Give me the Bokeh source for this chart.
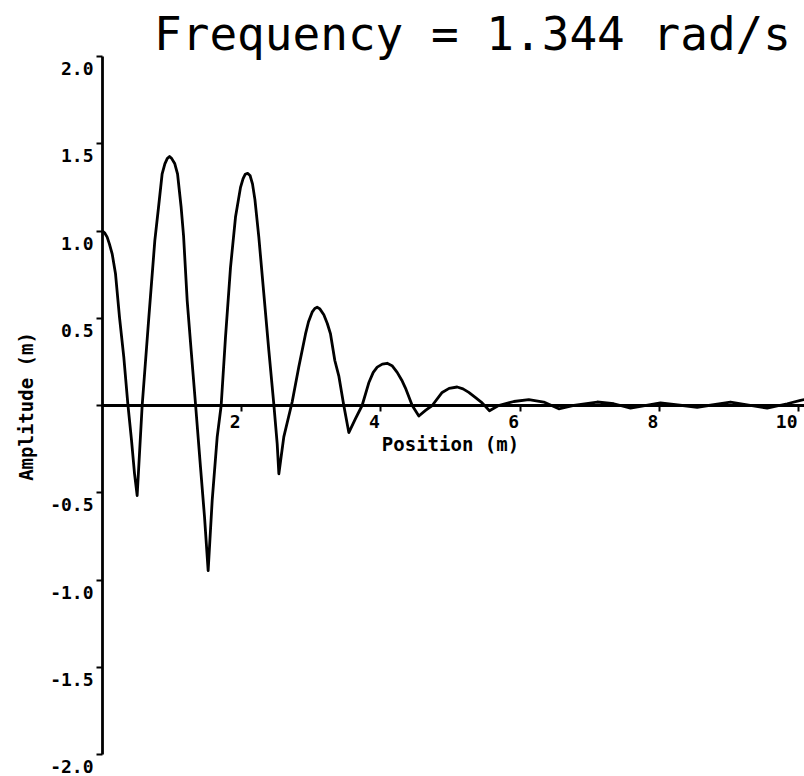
from bokeh.plotting import figure
from bokeh.models import Range1d, FixedTicker, ColumnDataSource, Label, LinearAxis
from bokeh.core.properties import value
from bokeh.embed import file_html
from bokeh.resources import INLINE
import math

# ---- data ----
position = [0.000, 0.030, 0.067, 0.100, 0.139, 0.187, 0.244, 0.306, 0.364, 0.417,
            0.460, 0.498, 0.570, 0.666, 0.752, 0.805, 0.857, 0.896, 0.930, 0.963,
            0.995, 1.039, 1.078, 1.130, 1.165, 1.217, 1.274, 1.336, 1.408, 1.466,
            1.518, 1.576, 1.648, 1.705, 1.767, 1.839, 1.911, 1.983, 2.020, 2.050,
            2.085, 2.120, 2.155, 2.190, 2.246, 2.318, 2.390, 2.461, 2.510, 2.534,
            2.605, 2.725, 2.820, 2.917, 2.960, 3.012, 3.050, 3.084, 3.120, 3.180,
            3.230, 3.276, 3.338, 3.395, 3.467, 3.539, 3.635, 3.730, 3.826, 3.890,
            3.947, 4.020, 4.090, 4.160, 4.234, 4.300, 4.353, 4.450, 4.545, 4.641,
            4.737, 4.880, 4.980, 5.096, 5.180, 5.263, 5.360, 5.455, 5.560, 5.690,
            5.910, 6.125, 6.340, 6.556, 6.772, 7.108, 7.346, 7.586, 8.017, 8.544,
            9.023, 9.550, 9.838, 10.029, 10.086]
amplitude = [1.000, 0.990, 0.965, 0.925, 0.869, 0.755, 0.506, 0.277, 0.010, -0.200,
             -0.390, -0.516, 0.000, 0.506, 0.946, 1.136, 1.328, 1.385, 1.415, 1.427,
             1.415, 1.385, 1.328, 1.136, 0.970, 0.600, 0.315, 0.010, -0.353, -0.640,
             -0.946, -0.544, -0.180, 0.000, 0.390, 0.790, 1.080, 1.250, 1.300, 1.325,
             1.330, 1.318, 1.270, 1.180, 0.965, 0.640, 0.315, 0.010, -0.220, -0.391,
             -0.180, 0.020, 0.220, 0.410, 0.480, 0.535, 0.556, 0.563, 0.555, 0.520,
             0.470, 0.410, 0.258, 0.170, 0.000, -0.155, -0.075, 0.000, 0.130, 0.190,
             0.220, 0.237, 0.242, 0.228, 0.190, 0.145, 0.100, 0.000, -0.060, -0.028,
             0.000, 0.075, 0.098, 0.106, 0.095, 0.075, 0.045, 0.015, -0.030, 0.000,
             0.023, 0.034, 0.020, -0.019, 0.000, 0.020, 0.010, -0.015, 0.015, -0.010,
             0.020, -0.015, 0.010, 0.029, 0.034]

y_ticks = [-2.0, -1.5, -1.0, -0.5, 0.0, 0.5, 1.0, 1.5, 2.0]
y_label_values = [-2.0, -1.5, -1.0, -0.5, 0.5, 1.0, 1.5, 2.0]
y_label_texts = ["-2.0", "-1.5", "-1.0", "-0.5", "0.5", "1.0", "1.5", "2.0"]
x_ticks = [2, 4, 6, 8, 10]
x_label_texts = ["2", "4", "6", "8", "10"]
title_text = "Frequency = 1.344 rad/s"
x_axis_title = "Position (m)"
y_axis_title = "Amplitude (m)"

# ---- layout ----
W, H = 804, 776
X0_PX, PX_PER_X = 102.0, 69.6
Y0_PX, PX_PER_Y = 405.0, 174.5
x_end = (W - X0_PX) / PX_PER_X

p = figure(width=W, height=H, output_backend="svg", toolbar_location=None,
           x_range=Range1d(-X0_PX / PX_PER_X, x_end),
           y_range=Range1d(-(H - Y0_PX) / PX_PER_Y, Y0_PX / PX_PER_Y),
           x_axis_location=None, y_axis_location=None, min_border=0, title=None)
p.grid.visible = False
p.outline_line_color = None
p.background_fill_color = "white"
p.border_fill_color = "white"

common = dict(axis_line_color="black", axis_line_width=2.8,
              major_tick_line_color="black", major_tick_line_width=2,
              major_tick_out=6, major_tick_in=0,
              minor_tick_out=0, minor_tick_in=0)

xax = LinearAxis(fixed_location=0, bounds=(0, x_end),
                 ticker=FixedTicker(ticks=x_ticks),
                 major_label_overrides={t: "" for t in x_ticks}, **common)
p.add_layout(xax, "below")
yax = LinearAxis(fixed_location=0, bounds=(-2, 2),
                 ticker=FixedTicker(ticks=y_ticks),
                 major_label_overrides={t: "" for t in y_ticks}, **common)
p.add_layout(yax, "left")

p.line(position, amplitude, line_color="black", line_width=2.8, line_join="round")

tick_font = value("DejaVu Sans Mono")
ysrc = ColumnDataSource(dict(x=[0.0] * len(y_label_values), y=y_label_values, t=y_label_texts))
p.text(x="x", y="y", text="t", source=ysrc, x_offset=-9, y_offset=12,
       text_align="right", text_baseline="middle", text_font=tick_font,
       text_font_style="bold", text_font_size="18px", text_color="black")
xsrc = ColumnDataSource(dict(x=x_ticks, y=[0.0] * len(x_ticks), t=x_label_texts))
p.text(x="x", y="y", text="t", source=xsrc, x_offset=-1, y_offset=16,
       text_align="right", text_baseline="middle", text_font=tick_font,
       text_font_style="bold", text_font_size="18px", text_color="black")

p.add_layout(Label(x=472, y=H - 33, x_units="screen", y_units="screen", text=title_text,
                   text_align="center", text_baseline="middle",
                   text_font="DejaVu Sans Mono", text_font_size="46px", text_color="black"))
p.add_layout(Label(x=450, y=H - 443, x_units="screen", y_units="screen", text=x_axis_title,
                   text_align="center", text_baseline="middle", text_font="DejaVu Sans Mono",
                   text_font_style="bold", text_font_size="19px", text_color="black"))
p.add_layout(Label(x=25, y=H - 406, x_units="screen", y_units="screen", text=y_axis_title,
                   angle=math.pi / 2, text_align="center", text_baseline="middle",
                   text_font="DejaVu Sans Mono", text_font_style="bold",
                   text_font_size="19px", text_color="black"))

open("out.html", "w").write(file_html(p, INLINE))
